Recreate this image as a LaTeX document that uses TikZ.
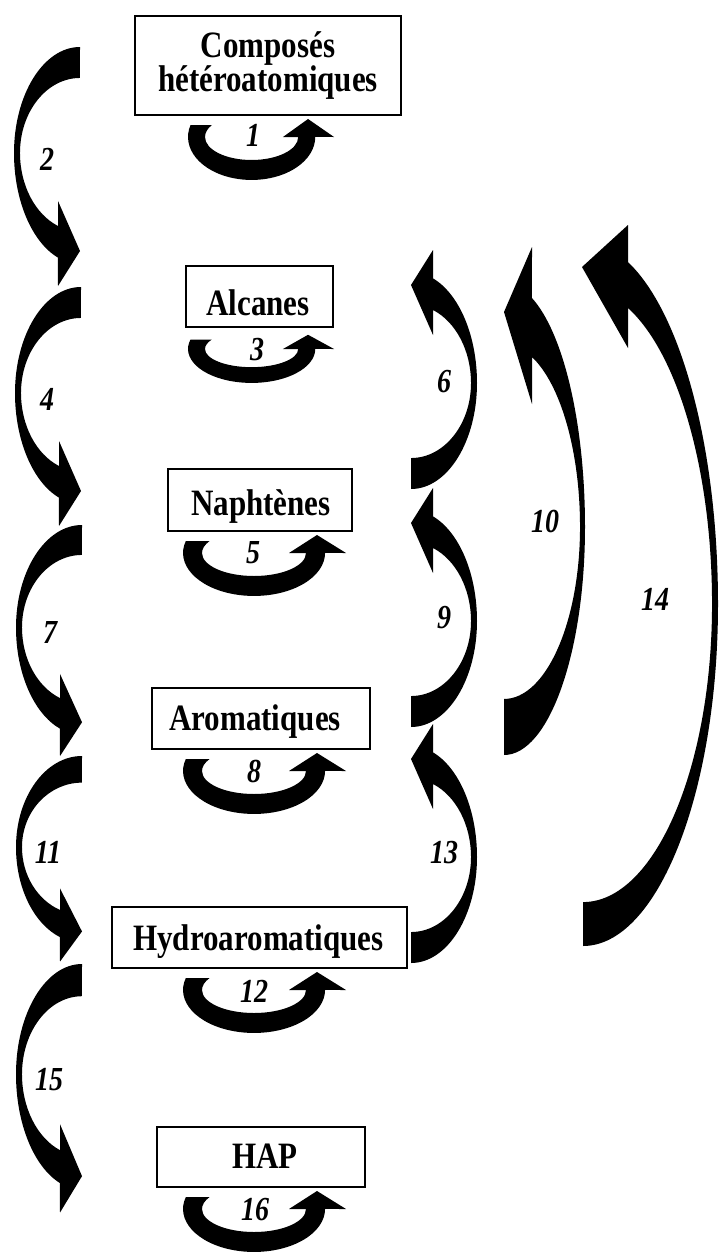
\documentclass[tikz,border=0pt]{standalone}
\usepackage{fontspec}
\usepackage{graphicx}
\setmainfont{Liberation Serif}
\newcommand\stretchtxt[1]{\scalebox{1}[1.2]{#1}}
% small side arrow, local coords: tail at origin, head up, bulge to the right
\newcommand\SmallArrow[1]{\fill[blk,#1] (0,0)
  arc[start angle=-90,end angle=0,x radius=66,y radius=106]
  arc[start angle=0,end angle=70.5,x radius=66,y radius=111]
  -- (22,239) -- (0,204) -- (22,154) -- (22,179)
  arc[start angle=68.5,end angle=0,x radius=60,y radius=78.5]
  arc[start angle=0,end angle=-90,x radius=60,y radius=75]
  -- cycle;}
% loop arrow under a box, local origin at centre of the ellipses
\newcommand\LoopArrow[1]{\fill[blk,#1] (-68.2,11.9)
  arc[start angle=164,end angle=360,x radius=71,y radius=43]
  -- (92,0) -- (63,18) -- (35,0) -- (52,0)
  arc[start angle=360,end angle=149,x radius=52,y radius=23]
  -- cycle;}
\begin{document}
\begin{tikzpicture}[x=1pt,y=1pt,
  box/.style={draw, line width=1.6pt, inner sep=0pt},
  boxtext/.style={anchor=base, inner sep=0pt, font=\fontsize{31}{31}\selectfont\bfseries},
  lab/.style={anchor=base, inner sep=0pt, font=\fontsize{28}{28}\selectfont\bfseries\itshape},
  blk/.style={fill=black, draw=none}]
\useasboundingbox (0,0) rectangle (719,-1253);

% boxes
\node[box, minimum width=266pt, minimum height=99pt] (b1) at (268,-65.5) {};
\node[box, minimum width=147pt, minimum height=61pt] (b2) at (259.5,-296.5) {};
\node[box, minimum width=184pt, minimum height=62pt] (b3) at (260,-500) {};
\node[box, minimum width=218pt, minimum height=61pt] (b4) at (261,-718.5) {};
\node[box, minimum width=295pt, minimum height=61pt] (b5) at (259.5,-937.5) {};
\node[box, minimum width=208pt, minimum height=60pt] (b6) at (261,-1157) {};

% box texts
\node[boxtext] (t1a) at (268,-57) {\stretchtxt{Composés}};
\node[boxtext] (t1b) at (268,-91) {\stretchtxt{hétéroatomiques}};
\node[boxtext] (t2) at (258,-315) {\stretchtxt{Alcanes}};
\node[boxtext] (t3) at (261,-515) {\stretchtxt{Naphtènes}};
\node[boxtext] (t4) at (255,-730) {\stretchtxt{Aromatiques}};
\node[boxtext] (t5) at (258.5,-950) {\stretchtxt{Hydroaromatiques}};
\node[boxtext] (t6) at (265,-1168) {\stretchtxt{HAP}};

% loop arrows
\LoopArrow{shift={(251.6,-137)},xscale=0.896}
\LoopArrow{shift={(251.6,-349)},xscale=0.896,yscale=0.79}
\LoopArrow{shift={(254,-553)}}
\LoopArrow{shift={(254,-771)}}
\LoopArrow{shift={(254,-990)}}
\LoopArrow{shift={(254,-1209)}}

% left side arrows
\SmallArrow{shift={(80,-47)},rotate=180}
\SmallArrow{shift={(81,-287)},rotate=180}
\SmallArrow{shift={(82,-525)},rotate=180,yscale=0.967}
\SmallArrow{shift={(82,-756)},rotate=180,yscale=0.86}
\SmallArrow{shift={(82,-964)},rotate=180,yscale=1.04}

% right side small arrows
\SmallArrow{shift={(411,-489)}}
\SmallArrow{shift={(411,-727)}}
\SmallArrow{shift={(411,-963)}}

% arrow 10
\fill[blk,shift={(504,-755)}] (0,0)
  arc[start angle=-90,end angle=0,x radius=81,y radius=228]
  arc[start angle=0,end angle=69.8,x radius=81,y radius=244]
  -- (28,508) -- (0,443) -- (28,351) -- (28,398)
  arc[start angle=68.4,end angle=0,x radius=76,y radius=182.8]
  arc[start angle=0,end angle=-90,x radius=76,y radius=172]
  -- cycle;

% arrow 14
\fill[blk,shift={(583,-946)}] (0,0)
  arc[start angle=-90,end angle=0,x radius=135,y radius=342]
  arc[start angle=0,end angle=70.5,x radius=135,y radius=362.7]
  -- (45,721) -- (-1,679) -- (45,598) -- (45,638)
  arc[start angle=69.6,end angle=0,x radius=129,y radius=315.9]
  arc[start angle=0,end angle=-90,x radius=129,y radius=298]
  -- cycle;

% labels
\node[lab] (l1) at (253,-146) {\stretchtxt{1}};
\node[lab] (l3) at (257,-360) {\stretchtxt{3}};
\node[lab] (l5) at (253,-563) {\stretchtxt{5}};
\node[lab] (l8) at (254,-782) {\stretchtxt{8}};
\node[lab] (l12) at (254,-1002) {\stretchtxt{12}};
\node[lab] (l16) at (255,-1220) {\stretchtxt{16}};
\node[lab] (l2) at (47,-170) {\stretchtxt{2}};
\node[lab] (l4) at (47,-410) {\stretchtxt{4}};
\node[lab] (l7) at (50,-643) {\stretchtxt{7}};
\node[lab] (l11) at (48,-863) {\stretchtxt{11}};
\node[lab] (l15) at (49,-1090) {\stretchtxt{15}};
\node[lab] (l6) at (444,-392) {\stretchtxt{6}};
\node[lab] (l9) at (444,-628) {\stretchtxt{9}};
\node[lab] (l13) at (444,-863) {\stretchtxt{13}};
\node[lab] (l10) at (545,-532) {\stretchtxt{10}};
\node[lab] (l14) at (655,-610) {\stretchtxt{14}};
\end{tikzpicture}
\end{document}
